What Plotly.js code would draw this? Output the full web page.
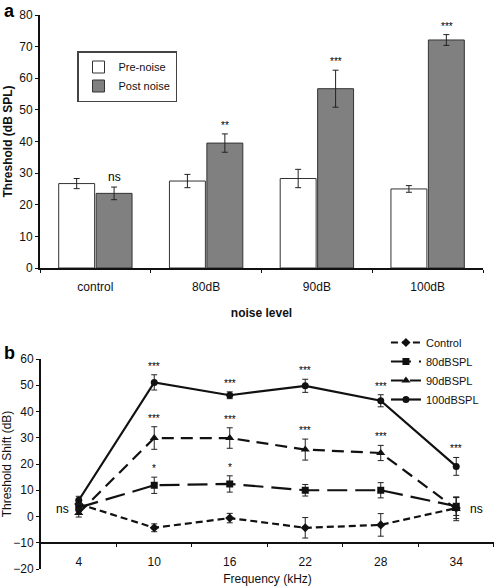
<!DOCTYPE html>
<html>
<head>
<meta charset="utf-8">
<script src="https://cdn.plot.ly/plotly-3.0.1.min.js"></script>
<style>html,body{margin:0;padding:0;background:#fff;}#chart{width:496px;height:587px;}</style>
</head>
<body>
<div id="chart"></div>
<script>
// ---- Panel a data ----
var noiseLevels = ['control', '80dB', '90dB', '100dB'];
var preNoise = [26.7, 27.5, 28.3, 25.0];
var preNoiseErr = [1.6, 2.1, 2.9, 1.05];
var postNoise = [23.6, 39.5, 56.7, 72.1];
var postNoiseErr = [2.0, 2.9, 5.85, 1.7];
var postSig = ['ns', '**', '***', '***'];

// ---- Panel b data ----
var freqs = ['4', '10', '16', '22', '28', '34'];
var shiftControl = [4.8, -4.3, -0.6, -4.3, -3.2, 3.2];
var shiftControlErr = [1.5, 1.5, 1.8, 3.9, 4.3, 4.0];
var shift80 = [3.4, 11.9, 12.4, 10.0, 10.0, 3.9];
var shift80Err = [1.5, 3.1, 3.1, 2.2, 2.9, 3.5];
var shift90 = [1.3, 29.9, 29.9, 25.5, 24.2, 2.9];
var shift90Err = [1.5, 4.3, 3.9, 4.0, 2.9, 4.5];
var shift100 = [6.2, 51.1, 46.2, 49.8, 44.1, 19.1];
var shift100Err = [1.5, 2.9, 1.3, 2.5, 2.3, 3.4];
var sig100 = ['', '***', '***', '***', '***', '***'];
var sig90 = ['', '***', '***', '***', '***', ''];
var sig80 = ['', '*', '*', '', '', ''];

var FONT = 'Liberation Sans, Arial, sans-serif';
var errStyle = {type: 'data', visible: true, thickness: 1, width: 3, color: '#222'};

function err(arr) { return Object.assign({array: arr}, errStyle); }

var traces = [
  {type: 'bar', name: 'Pre-noise', x: noiseLevels, y: preNoise, error_y: err(preNoiseErr),
   marker: {color: '#ffffff', line: {color: '#333', width: 1}}, xaxis: 'x', yaxis: 'y', legend: 'legend'},
  {type: 'bar', name: 'Post noise', x: noiseLevels, y: postNoise, error_y: err(postNoiseErr),
   marker: {color: '#808080', line: {color: '#333', width: 1}}, xaxis: 'x', yaxis: 'y', legend: 'legend'},
  {type: 'scatter', mode: 'lines+markers', name: 'Control', x: freqs, y: shiftControl, error_y: err(shiftControlErr),
   line: {color: '#111', width: 2.2, dash: '7px,4px'}, marker: {symbol: 'diamond', size: 7, color: '#111'},
   xaxis: 'x2', yaxis: 'y2', legend: 'legend2'},
  {type: 'scatter', mode: 'lines+markers', name: '80dBSPL', x: freqs, y: shift80, error_y: err(shift80Err),
   line: {color: '#111', width: 2.2, dash: '20px,8px'}, marker: {symbol: 'square', size: 7, color: '#111'},
   xaxis: 'x2', yaxis: 'y2', legend: 'legend2'},
  {type: 'scatter', mode: 'lines+markers', name: '90dBSPL', x: freqs, y: shift90, error_y: err(shift90Err),
   line: {color: '#111', width: 2.2, dash: '12px,7px'}, marker: {symbol: 'triangle-up', size: 8, color: '#111'},
   xaxis: 'x2', yaxis: 'y2', legend: 'legend2'},
  {type: 'scatter', mode: 'lines+markers', name: '100dBSPL', x: freqs, y: shift100, error_y: err(shift100Err),
   line: {color: '#111', width: 2.2}, marker: {symbol: 'circle', size: 7, color: '#111'},
   xaxis: 'x2', yaxis: 'y2', legend: 'legend2'}
];

var annotations = [];
// panel a significance marks (above post-noise bars)
noiseLevels.forEach(function (c, i) {
  annotations.push({xref: 'x', yref: 'y', x: i, y: postNoise[i] + postNoiseErr[i], text: postSig[i],
    showarrow: false, xshift: 19, yanchor: 'bottom', yshift: 1, font: {family: FONT, size: postSig[i] === 'ns' ? 12 : 10, color: '#000'}});
});
// panel b significance marks (x given as category index)
function addSig(vals, errs, sigs) {
  freqs.forEach(function (f, i) {
    if (!sigs[i]) return;
    annotations.push({xref: 'x2', yref: 'y2', x: i, y: vals[i] + errs[i], text: sigs[i], showarrow: false,
      yanchor: 'bottom', yshift: 1, font: {family: FONT, size: 10, color: '#000'}});
  });
}
addSig(shift100, shift100Err, sig100);
addSig(shift90, shift90Err, sig90);
addSig(shift80, shift80Err, sig80);
annotations.push({xref: 'x2', yref: 'y2', x: 0, y: 3, text: 'ns', showarrow: false, xshift: -16,
  font: {family: FONT, size: 12, color: '#000'}});
annotations.push({xref: 'x2', yref: 'y2', x: freqs.length - 1, y: 3, text: 'ns', showarrow: false, xshift: 20,
  font: {family: FONT, size: 12, color: '#000'}});
// panel letters
annotations.push({xref: 'paper', yref: 'paper', x: -0.083, y: 1.028, xanchor: 'left', yanchor: 'top', text: '<b>a</b>',
  showarrow: false, font: {family: FONT, size: 18, color: '#000'}});
annotations.push({xref: 'paper', yref: 'paper', x: -0.083, y: 0.412, xanchor: 'left', yanchor: 'top', text: '<b>b</b>',
  showarrow: false, font: {family: FONT, size: 18, color: '#000'}});

var bottomDomain = [0, 0.379];
var axisPos = bottomDomain[0] + (bottomDomain[1] - bottomDomain[0]) * (10 / 80);

var layout = {
  width: 496, height: 587,
  margin: {l: 40, r: 2, t: 15, b: 18},
  paper_bgcolor: '#fff', plot_bgcolor: '#fff',
  font: {family: FONT, size: 12, color: '#111'},
  barmode: 'group', bargap: 0.324, bargroupgap: 0.04,
  showlegend: true,
  xaxis: {domain: [0, 0.9758], anchor: 'y', type: 'category', range: [-0.5, noiseLevels.length - 0.5],
    tickson: 'boundaries', ticks: 'outside', ticklen: 3, ticklabelstandoff: 7,
    tickcolor: '#111', showline: true, linewidth: 2, linecolor: '#111', showgrid: false,
    title: {text: '<b>noise level</b>', font: {size: 12}, standoff: 15}, tickfont: {size: 12}},
  yaxis: {domain: [0.5433, 1], anchor: 'x', range: [0, 80], dtick: 10, ticks: 'outside', ticklen: 3, tickcolor: '#111',
    showline: true, linewidth: 2, linecolor: '#111', showgrid: false, zeroline: false,
    title: {text: '<b>Threshold (dB SPL)</b>', font: {size: 12}, standoff: 4}, tickfont: {size: 12}},
  xaxis2: {domain: [0.0022, 1], anchor: 'free', position: axisPos, type: 'category', range: [-0.5, freqs.length - 0.5],
    tickson: 'boundaries', ticks: 'outside', ticklen: 3, ticklabelstandoff: 8, tickcolor: '#111', showline: true, linewidth: 2,
    linecolor: '#111', showgrid: false,
    title: {text: 'Frequency (kHz)', font: {size: 12}, standoff: 5}, tickfont: {size: 12}},
  yaxis2: {domain: bottomDomain, anchor: 'x2', range: [-20, 60], dtick: 10, ticks: 'outside', ticklen: 3, tickcolor: '#111',
    showline: true, linewidth: 2, linecolor: '#111', showgrid: false, zeroline: false,
    title: {text: 'Threshold Shift (dB)', font: {size: 12}, standoff: 4}, tickfont: {size: 12}},
  legend: {x: 0.0815, y: 0.935, xanchor: 'left', yanchor: 'top', bgcolor: '#fff', bordercolor: '#444', borderwidth: 1.5,
    font: {size: 11}, traceorder: 'normal', itemwidth: 30},
  legend2: {x: 0.762, y: 0.435, xanchor: 'left', yanchor: 'top', bgcolor: 'rgba(0,0,0,0)', borderwidth: 0,
    font: {size: 11}, traceorder: 'normal', tracegroupgap: 0},
  annotations: annotations
};

Plotly.newPlot('chart', traces, layout, {displayModeBar: false, staticPlot: true});
</script>
</body>
</html>
